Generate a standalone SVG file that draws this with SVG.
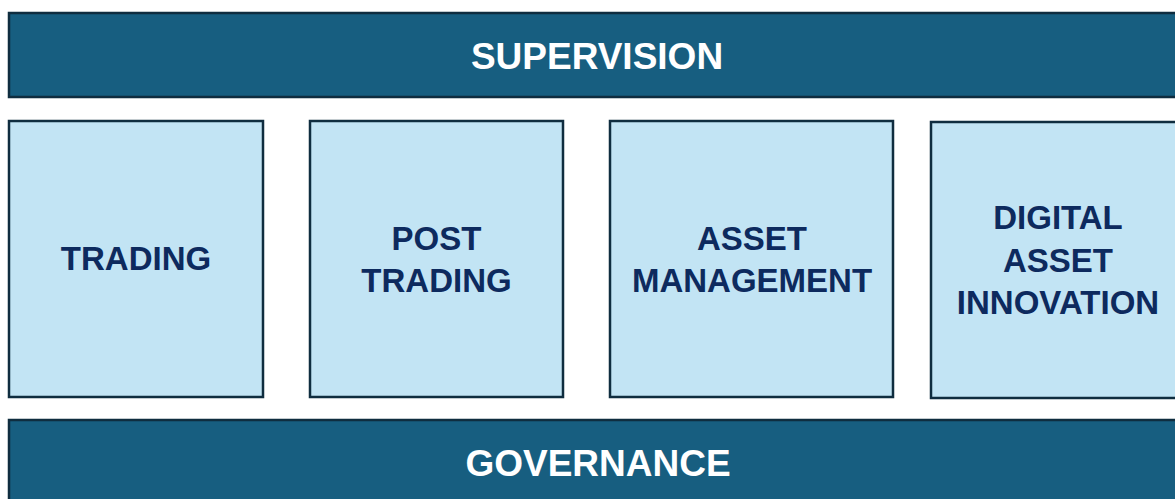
<svg xmlns="http://www.w3.org/2000/svg" width="1175" height="499" viewBox="0 0 1175 499">
<style>
.bar{fill:#175e80;stroke:#0f2d3f;stroke-width:2.5}
.box{fill:#c2e4f4;stroke:#0f2d3f;stroke-width:2.5}
.bt{font-family:"Liberation Sans",Arial,sans-serif;font-weight:bold;font-size:37px;fill:#ffffff;text-anchor:middle}
.t{font-family:"Liberation Sans",Arial,sans-serif;font-weight:bold;font-size:33px;fill:#0d2a5e;text-anchor:middle}
</style>
<rect width="1175" height="499" fill="#ffffff"/>
<g id="supervision">
<rect class="bar" x="9" y="13" width="1180" height="84"/>
<text class="bt" x="597" y="69">SUPERVISION</text>
</g>
<g id="trading">
<rect class="box" x="9" y="121" width="254" height="276"/>
<text class="t" x="136" y="270">TRADING</text>
</g>
<g id="post-trading">
<rect class="box" x="310" y="121" width="253" height="276"/>
<text class="t" x="436.5" y="250">POST</text>
<text class="t" x="436.5" y="292">TRADING</text>
</g>
<g id="asset-management">
<rect class="box" x="610" y="121" width="283" height="276"/>
<text class="t" x="752" y="250">ASSET</text>
<text class="t" x="752" y="292">MANAGEMENT</text>
</g>
<g id="digital-asset-innovation">
<rect class="box" x="931" y="122" width="254" height="276"/>
<text class="t" x="1058" y="229">DIGITAL</text>
<text class="t" x="1058" y="272">ASSET</text>
<text class="t" x="1058" y="314">INNOVATION</text>
</g>
<g id="governance">
<rect class="bar" x="9" y="420" width="1180" height="90"/>
<text class="bt" x="598" y="476">GOVERNANCE</text>
</g>
<g id="connectors"></g>
</svg>
